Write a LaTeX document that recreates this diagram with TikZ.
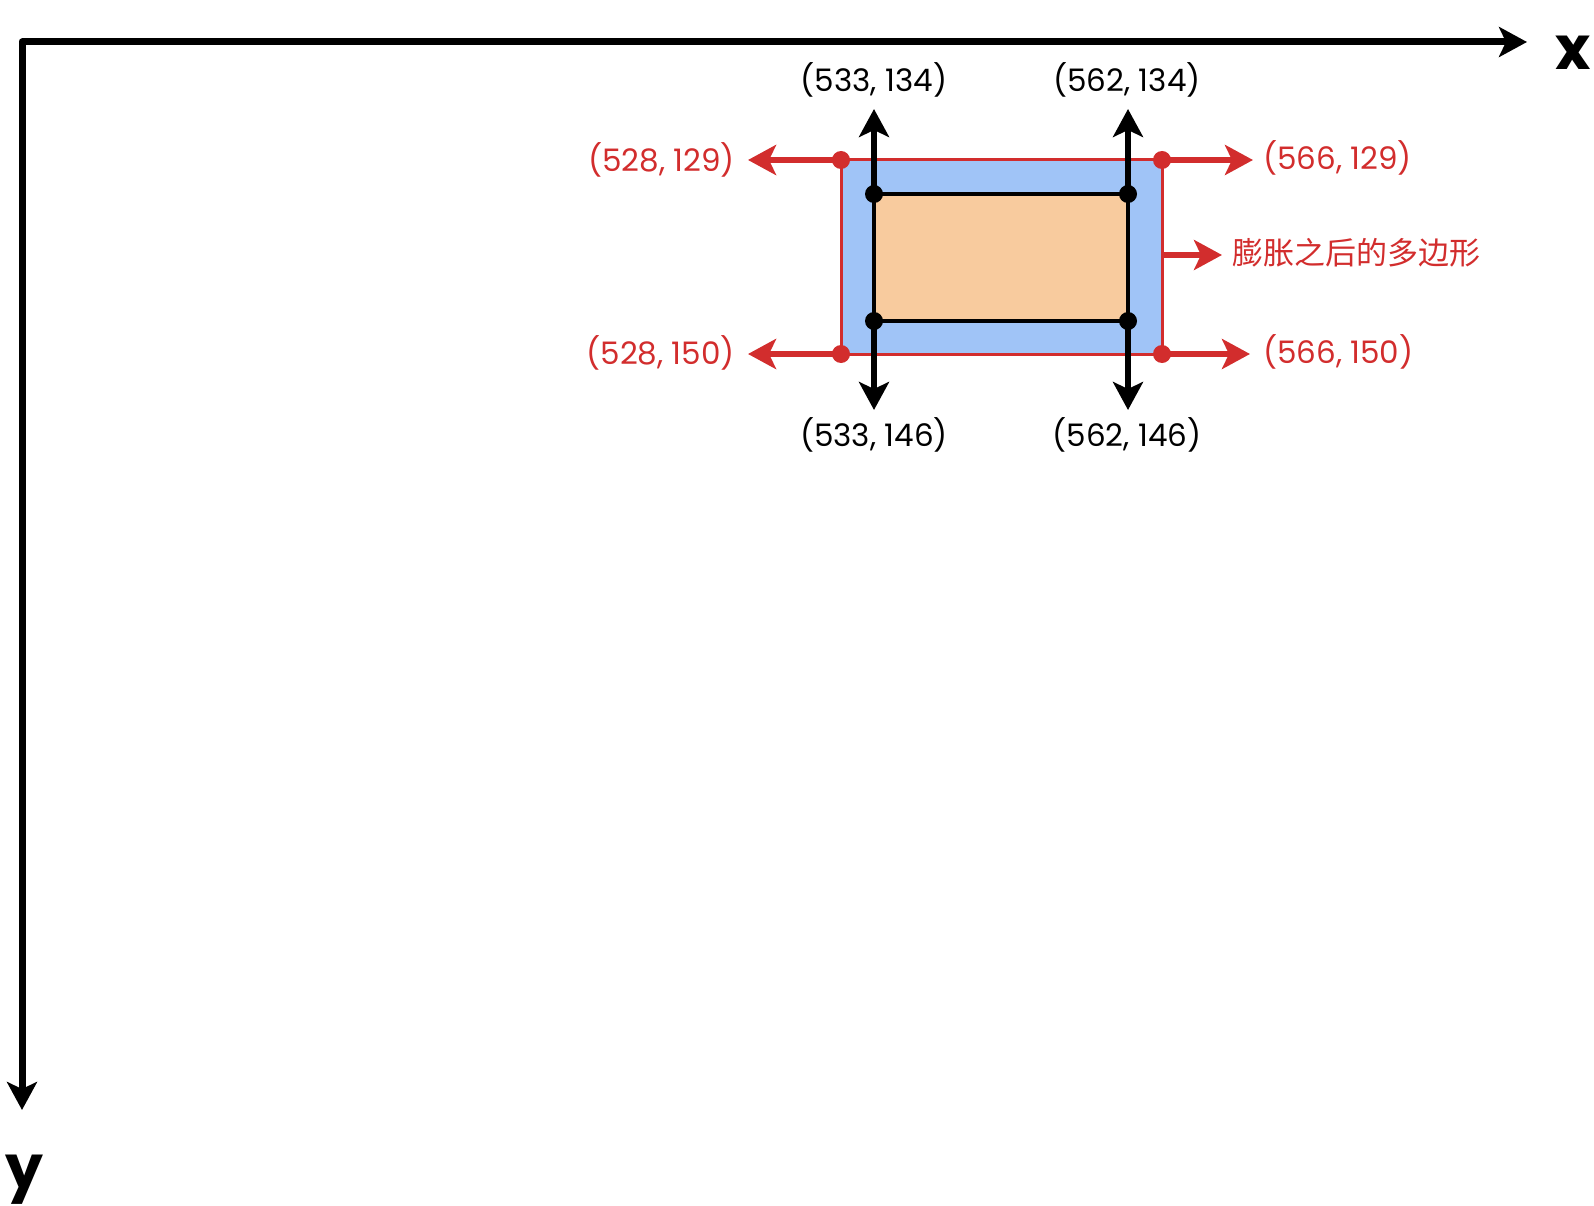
\documentclass[tikz,border=0pt]{standalone}
\usepackage{fontspec}
\setmainfont{Poppins}
\newfontfamily\cjk{Noto Sans CJK SC}
\usetikzlibrary{arrows.meta}
\definecolor{myred}{RGB}{210,45,45}
\definecolor{myblue}{RGB}{160,196,247}
\definecolor{myorange}{RGB}{248,203,158}
\tikzset{
  headtip/.tip={Stealth[length=28pt,width=30pt,inset=7pt]},
  axisline/.style={black, line width=7pt, line join=round, {headtip}-{headtip}},
  redarrow/.style={myred, line width=6pt, -{headtip}},
  blkarrow/.style={black, line width=6.5pt, -{headtip}},
  reddot/.style={circle, fill=myred, inner sep=0pt, minimum size=18pt},
  blkdot/.style={circle, fill=black, inner sep=0pt, minimum size=18pt},
  lab/.style={font=\fontsize{31}{36}\selectfont, inner sep=0pt},
  redlab/.style={lab, text=myred},
  axislab/.style={font=\fontsize{60}{66}\selectfont\bfseries, inner sep=0pt, anchor=base},
}
\begin{document}
\begin{tikzpicture}[x=1pt,y=-1pt]
\useasboundingbox (0,0) rectangle (1594,1206);
% axes
\coordinate (o) at (22,42);
\coordinate (xtip) at (1527,42);
\coordinate (ytip) at (22,1110);
\draw[axisline] (ytip) -- (o) -- (xtip);
\node[axislab] (xl) at (1573,70) {x};
\node[axislab] (yl) at (24,1188) {y};
% expanded polygon
\draw[myred, line width=3pt, fill=myblue] (841,160) rectangle (1162,354);
% original polygon
\draw[black, line width=4pt, fill=myorange] (874,194) rectangle (1128,321);
% corner coordinates
\coordinate (rtl) at (841,160);
\coordinate (rtr) at (1162,160);
\coordinate (rbl) at (841,354);
\coordinate (rbr) at (1162,354);
\coordinate (rmid) at (1162,255);
\coordinate (btl) at (874,194);
\coordinate (btr) at (1128,194);
\coordinate (bbl) at (874,321);
\coordinate (bbr) at (1128,321);
% arrow tips
\coordinate (trtl) at (748,160);
\coordinate (trbl) at (748,354);
\coordinate (trtr) at (1253,160);
\coordinate (trbr) at (1250,354);
\coordinate (trmid) at (1222,255);
\coordinate (tbtl) at (874,109);
\coordinate (tbtr) at (1128,109);
\coordinate (tbbl) at (874,410);
\coordinate (tbbr) at (1128,410);
% black arrows
\draw[blkarrow] (btl) -- (tbtl);
\draw[blkarrow] (btr) -- (tbtr);
\draw[blkarrow] (bbl) -- (tbbl);
\draw[blkarrow] (bbr) -- (tbbr);
% red arrows
\draw[redarrow] (rtl) -- (trtl);
\draw[redarrow] (rbl) -- (trbl);
\draw[redarrow] (rtr) -- (trtr);
\draw[redarrow] (rbr) -- (trbr);
\draw[redarrow] (rmid) -- (trmid);
% dots
\node[blkdot] (dbtl) at (btl) {};
\node[blkdot] (dbtr) at (btr) {};
\node[blkdot] (dbbl) at (bbl) {};
\node[blkdot] (dbbr) at (bbr) {};
\node[reddot] (drtl) at (rtl) {};
\node[reddot] (drtr) at (rtr) {};
\node[reddot] (drbl) at (rbl) {};
\node[reddot] (drbr) at (rbr) {};
% labels
\node[lab] (l1) at (874,80) {(533, 134)};
\node[lab] (l2) at (1127,80) {(562, 134)};
\node[lab] (l3) at (874,435) {(533, 146)};
\node[lab] (l4) at (1127,435) {(562, 146)};
\node[redlab, anchor=east] (l5) at (735,160) {(528, 129)};
\node[redlab, anchor=east] (l6) at (735,353) {(528, 150)};
\node[redlab, anchor=west] (l7) at (1263,158) {(566, 129)};
\node[redlab, anchor=west] (l8) at (1263,352) {(566, 150)};
\node[inner sep=0pt, anchor=west, text=myred, font=\cjk\fontsize{31}{36}\selectfont] (l9) at (1232,253) {膨胀之后的多边形};
\end{tikzpicture}
\end{document}
